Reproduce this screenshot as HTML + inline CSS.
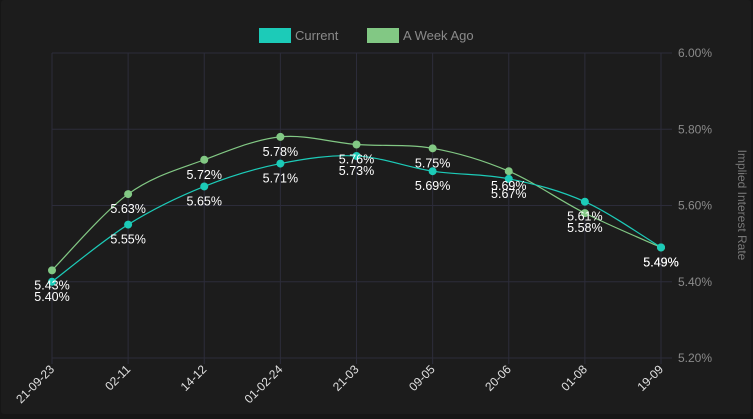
<!DOCTYPE html>
<html><head><meta charset="utf-8"><style>
html,body{margin:0;padding:0;background:#161616;width:753px;height:419px;overflow:hidden}
#card{position:absolute;left:1px;top:0;width:750px;height:414px;background:#1c1c1c;border-radius:3px}
svg{position:absolute;left:0;top:0}
text{font-family:"Liberation Sans",sans-serif}
</style></head><body>
<div id="card"></div>
<svg id="chart" width="753" height="419"></svg>
<script>
const categories=["21-09-23","02-11","14-12","01-02-24","21-03","09-05","20-06","01-08","19-09"];
const currentValues=[5.40,5.55,5.65,5.71,5.73,5.69,5.67,5.61,5.49];
const weekAgoValues=[5.43,5.63,5.72,5.78,5.76,5.75,5.69,5.58,5.49];
const yTicks=[5.20,5.40,5.60,5.80,6.00];
const NS="http://www.w3.org/2000/svg";
const svg=document.getElementById('chart');
const L=52,R=661,T=53,B=358,ymin=5.2,ymax=6.0;
const xs=i=>L+(R-L)*i/(categories.length-1);
const ys=v=>B-(v-ymin)/(ymax-ymin)*(B-T);
function mk(t,a,p){const e=document.createElementNS(NS,t);for(const k in a)e.setAttribute(k,a[k]);(p||svg).appendChild(e);return e;}
yTicks.forEach(v=>{
 const g=mk('line',{x1:L,x2:672,y1:ys(v),y2:ys(v),stroke:'#2c2c3a','stroke-width':1});
 
 
 const t=mk('text',{x:678,y:ys(v)+4,fill:'#8a8a8a','font-size':12});
 t.textContent=v.toFixed(2)+'%';
 
 
});
categories.forEach((c,i)=>{
 const x=xs(i);
 const g=mk('line',{x1:x,x2:x,y1:T,y2:B+6,stroke:'#2c2c3a','stroke-width':1});
 
 
 const t=mk('text',{x:x+3,y:B+12,fill:'#e0e0e0','font-size':12,'text-anchor':'end',transform:`rotate(-45 ${x+3} ${B+12})`});
 t.textContent=c;
 
 
});
const yt=mk('text',{x:738,y:205,fill:'#777','font-size':12,'text-anchor':'middle',transform:'rotate(90 738 205)'});
yt.textContent='Implied Interest Rate';


function path(vals){
 const p=vals.map((v,i)=>[xs(i),ys(v)]);
 let d=`M${p[0][0]},${p[0][1]}`;
 for(let i=0;i<p.length-1;i++){
  const p0=p[i-1]||p[i],p1=p[i],p2=p[i+1],p3=p[i+2]||p2,k=0.4/2;
  d+=`C${p1[0]+(p2[0]-p0[0])*k/1.2},${p1[1]+(p2[1]-p0[1])*k/1.2} ${p2[0]-(p3[0]-p1[0])*k/1.2},${p2[1]-(p3[1]-p1[1])*k/1.2} ${p2[0]},${p2[1]}`;
 }
 return d;
}
function series(vals,color,name){
 const l=mk('path',{d:path(vals),fill:'none',stroke:color,'stroke-width':1.2});
 
 
 vals.forEach((v,i)=>{
  const c=mk('circle',{cx:xs(i),cy:ys(v),r:4,fill:color});
  
  
 });
}
function labels(vals,name){
 vals.forEach((v,i)=>{
  const t=mk('text',{x:xs(i),y:ys(v)+19,fill:'#ffffff','font-size':12.5,'text-anchor':'middle'});
  t.textContent=v.toFixed(2)+'%';
  
  
 });
}
series(weekAgoValues,'#82c884','week-ago');
series(currentValues,'#1ccbb8','current');
labels(weekAgoValues,'week-ago');
labels(currentValues,'current');
const lg=mk('g',{});


[[259,'#1ccbb8','Current','legend-current'],[367,'#82c884','A Week Ago','legend-week-ago']].forEach(([x,c,s,n])=>{
 const g=mk('g',{},lg);
 
 
 mk('rect',{x:x,y:28,width:32,height:15,fill:c},g);
 const t=mk('text',{x:x+36,y:40,fill:'#8a8a8a','font-size':13},g);
 t.textContent=s;
});
</script>
</body></html>
